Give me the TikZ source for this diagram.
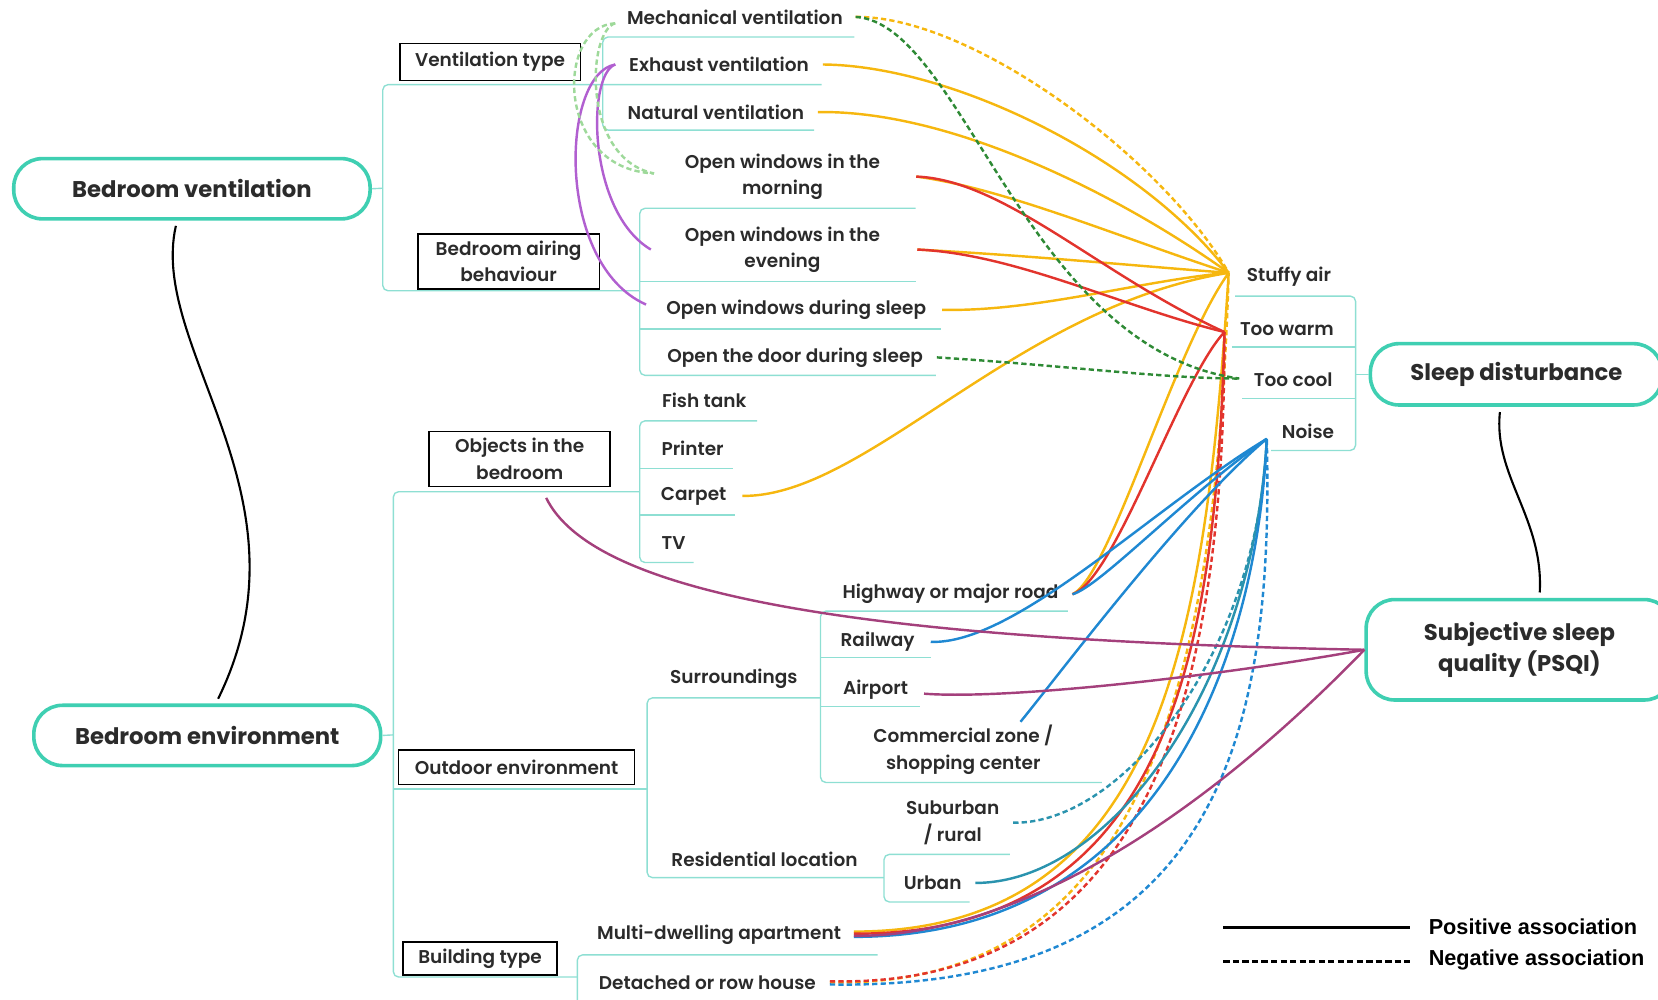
\documentclass[tikz,border=0pt]{standalone}
\usepackage{fontspec}
\setmainfont{Poppins}[UprightFont={* Medium}, BoldFont={* SemiBold}]
\newfontfamily\topicfont{Poppins}[UprightFont={* Bold}]
\newfontfamily\legendfont{Liberation Sans}
\usepackage{xcolor}

\definecolor{ink}{HTML}{2B2B2B}
\definecolor{mainteal}{HTML}{3FCFB2}
\definecolor{treeteal}{HTML}{8EDFD3}
\definecolor{stuffycol}{HTML}{F6B70F}
\definecolor{warmcol}{HTML}{E2342D}
\definecolor{coolcol}{HTML}{2E8A35}
\definecolor{noisecol}{HTML}{1F88D2}
\definecolor{urbancol}{HTML}{2A93AE}
\definecolor{psqicol}{HTML}{A4407C}
\definecolor{airingcol}{HTML}{B15FD0}
\definecolor{mechcol}{HTML}{9ED99A}

\begin{document}
\begin{tikzpicture}[x=1pt,y=-1pt,
  topic/.style={draw=mainteal,line width=3.4pt,rounded corners=27pt,fill=white,text=ink,font=\topicfont\fontsize{21.5}{30}\selectfont,align=center},
  catbox/.style={draw=black,line width=1.6pt,inner sep=0pt,text=ink,font=\fontsize{17.5}{25}\selectfont\bfseries,align=center},
  leaf/.style={inner sep=3pt,text=ink,font=\fontsize{17.5}{25}\selectfont\bfseries,align=center},
  branch/.style={draw=treeteal,line width=1.3pt,rounded corners=5pt},
  assoc/.style={line width=2.3pt},
  neg/.style={line width=2.3pt,dash pattern=on 5pt off 3pt},
  legend/.style={anchor=west,inner sep=0pt,font=\legendfont\fontsize{20.5}{24}\selectfont\bfseries}]
  \useasboundingbox (0,0) rectangle (1568,945);

  % main topics
  \node[topic,minimum width=337pt,minimum height=57pt] (bvent) at (181.5,178.5) {Bedroom ventilation};
  \node[topic,minimum width=328pt,minimum height=57pt] (benv) at (196,695.5) {Bedroom environment};
  \node[topic,minimum width=276pt,minimum height=58pt] (sleepdist) at (1434,354) {Sleep disturbance};
  \node[topic,minimum width=290pt,minimum height=95pt] (psqi) at (1437,614.5) {Subjective sleep\\quality (PSQI)};

  % category boxes
  \node[catbox,minimum width=171pt,minimum height=35pt] (vtype) at (463.5,58.5) {Ventilation type};
  \node[catbox,minimum width=172pt,minimum height=52pt] (airing) at (481,247) {Bedroom airing\\behaviour};
  \node[catbox,minimum width=171pt,minimum height=52pt] (objects) at (491.5,434) {Objects in the\\bedroom};
  \node[catbox,minimum width=223pt,minimum height=33pt] (outdoor) at (488.5,725.5) {Outdoor environment};
  \node[catbox,minimum width=146pt,minimum height=31pt] (building) at (454,906.5) {Building type};

  % leaves
  \node[leaf] (mech) at (695,16) {Mechanical ventilation};
  \node[leaf] (exhaust) at (680,61) {Exhaust ventilation};
  \node[leaf] (natural) at (677,106) {Natural ventilation};
  \node[leaf] (morning) at (740,167) {Open windows in the\\morning};
  \node[leaf] (evening) at (740,236) {Open windows in the\\evening};
  \node[leaf] (during) at (753,293) {Open windows during sleep};
  \node[leaf] (door) at (752,338) {Open the door during sleep};
  \node[leaf] (fish) at (666,379) {Fish tank};
  \node[leaf] (printer) at (655,424) {Printer};
  \node[leaf] (carpet) at (656,469) {Carpet};
  \node[leaf] (tv) at (637,514) {TV};
  \node[leaf] (highway) at (899,562) {Highway or major road};
  \node[leaf] (railway) at (830,607) {Railway};
  \node[leaf] (airport) at (828,652) {Airport};
  \node[leaf] (commercial) at (911,709) {Commercial zone /\\shopping center};
  \node[leaf] (surround) at (694,642) {Surroundings};
  \node[leaf] (residential) at (723,813) {Residential location};
  \node[leaf] (suburban) at (901,778) {Suburban\\/ rural};
  \node[leaf] (urban) at (882,835) {Urban};
  \node[leaf] (multi) at (680,884) {Multi-dwelling apartment};
  \node[leaf] (detached) at (669,929) {Detached or row house};
  \node[leaf] (stuffy) at (1219,262) {Stuffy air};
  \node[leaf] (warm) at (1217,311) {Too warm};
  \node[leaf] (cool) at (1223,359) {Too cool};
  \node[leaf] (noise) at (1237,408) {Noise};

  % tree branches
  \draw[branch] (bvent.east) -- (362,178);
  \draw[branch] (777,80) -- (362,80) -- (362,275) -- (605,275);
  \draw[branch] (808,35) -- (570,35) -- (570,123) -- (770,123);
  \draw[branch] (866,197) -- (605,197) -- (605,355) -- (885,355);
  \draw[branch] (605,266) -- (866,266);
  \draw[branch] (605,311) -- (890,311);
  \draw[branch] (benv.east) -- (372,695);
  \draw[branch] (605,465) -- (372,465) -- (372,924) -- (546,924);
  \draw[branch] (372,746) -- (612,746);
  \draw[branch] (716,398) -- (605,398) -- (605,532) -- (656,532);
  \draw[branch] (605,443) -- (693,443);
  \draw[branch] (605,487) -- (695,487);
  \draw[branch] (776,660) -- (612,660) -- (612,830) -- (836,830);
  \draw[branch] (1010,578) -- (776,578) -- (776,740) -- (1042,740);
  \draw[branch] (776,622) -- (880,622);
  \draw[branch] (776,668) -- (870,668);
  \draw[branch] (955,808) -- (836,808) -- (836,853) -- (917,853);
  \draw[branch] (830,903) -- (546,903) -- (546,950);
  \draw[branch] (1168,280) -- (1282,280) -- (1282,426) -- (1202,426);
  \draw[branch] (1165,328) -- (1282,328);
  \draw[branch] (1175,377) -- (1282,377);
  \draw[branch] (sleepdist.west) -- (1282,354);

  % meeting points
  \coordinate (stuffyin) at (1162,258);
  \coordinate (warmin) at (1158,314);
  \coordinate (coolin) at (1172,358);
  \coordinate (noisein) at (1198,415);

  % stuffy air
  \draw[neg,stuffycol] ([xshift=9pt]mech.east) .. controls (920,15) and (1100,150) .. (stuffyin);
  \draw[assoc,stuffycol] ([xshift=10pt]exhaust.east) .. controls (900,62) and (1080,150) .. (stuffyin);
  \draw[assoc,stuffycol] ([xshift=10pt]natural.east) .. controls (900,104) and (1060,185) .. (stuffyin);
  \draw[assoc,stuffycol] ([xshift=31pt]morning.east) .. controls (950,178) and (1060,225) .. (stuffyin);
  \draw[assoc,stuffycol] ([xshift=32pt]evening.east) .. controls (980,242) and (1080,252) .. (stuffyin);
  \draw[assoc,stuffycol] ([xshift=12pt]during.east) .. controls (980,295) and (1080,265) .. (stuffyin);
  \draw[assoc,stuffycol] ([xshift=12pt]carpet.east) .. controls (820,470) and (960,290) .. (stuffyin);
  \draw[assoc,stuffycol] ([xshift=10pt]highway.east) .. controls (1050,545) and (1110,330) .. (stuffyin);
  \draw[assoc,stuffycol] ([xshift=9pt,yshift=3pt]multi.east) .. controls (1100,881) and (1140,600) .. (stuffyin);
  \draw[neg,stuffycol] ([xshift=10pt]detached.east) .. controls (1080,935) and (1150,650) .. (stuffyin);

  % too warm
  \draw[assoc,warmcol] ([xshift=31pt]morning.east) .. controls (950,170) and (1040,260) .. (warmin);
  \draw[assoc,warmcol] ([xshift=32pt]evening.east) .. controls (960,240) and (1060,290) .. (warmin);
  \draw[assoc,warmcol] ([xshift=10pt]highway.east) .. controls (1055,548) and (1115,360) .. (warmin);
  \draw[assoc,warmcol] ([xshift=9pt,yshift=1pt]multi.east) .. controls (1105,884) and (1150,620) .. (warmin);
  \draw[neg,warmcol] ([xshift=10pt,yshift=1pt]detached.east) .. controls (1085,935) and (1158,660) .. (warmin);

  % too cool
  \draw[neg,coolcol] ([xshift=9pt]mech.east) .. controls (910,22) and (970,330) .. (coolin);
  \draw[neg,coolcol] ([xshift=10pt]door.east) .. controls (1000,345) and (1100,358) .. (coolin);

  % noise
  \draw[assoc,noisecol] ([xshift=10pt]highway.east) .. controls (1040,555) and (1120,470) .. (noisein);
  \draw[assoc,noisecol] ([xshift=12pt]railway.east) .. controls (960,610) and (1090,480) .. (noisein);
  \draw[assoc,noisecol] (commercial.26) .. controls (1000,640) and (1120,480) .. (noisein);
  \draw[neg,urbancol] ([xshift=10pt]suburban.east) .. controls (1060,780) and (1190,620) .. (noisein);
  \draw[assoc,urbancol] ([xshift=10pt]urban.east) .. controls (1050,835) and (1185,650) .. (noisein);
  \draw[assoc,noisecol] ([xshift=9pt,yshift=-2pt]multi.east) .. controls (1110,886) and (1190,600) .. (noisein);
  \draw[neg,noisecol] ([xshift=10pt,yshift=-2pt]detached.east) .. controls (1150,937) and (1205,700) .. (noisein);

  % subjective sleep quality
  \draw[assoc,psqicol] ([xshift=25pt,yshift=-10pt]objects.south) .. controls (560,560) and (800,605) .. (psqi.west);
  \draw[assoc,psqicol] ([xshift=12pt,yshift=-4pt]airport.east) .. controls (950,662) and (1150,640) .. (psqi.west);
  \draw[assoc,psqicol] ([xshift=9pt,yshift=-1pt]multi.east) .. controls (950,886) and (1120,790) .. (psqi.west);

  % within ventilation
  \draw[assoc,airingcol] ([xshift=-10pt]exhaust.west) .. controls (555,70) and (555,200) .. ([xshift=-29pt]evening.west);
  \draw[assoc,airingcol] ([xshift=-10pt]exhaust.west) .. controls (530,70) and (525,250) .. ([xshift=-16pt,yshift=5pt]during.west);
  \draw[neg,mechcol] ([xshift=-8pt,yshift=-6pt]mech.west) .. controls (525,25) and (525,160) .. ([xshift=-26pt,yshift=3pt]morning.west);
  \draw[neg,mechcol] ([xshift=-8pt,yshift=-6pt]mech.west) .. controls (555,30) and (550,150) .. ([xshift=-26pt,yshift=3pt]morning.west);

  % topic links
  \draw[line width=2pt,shorten <=5pt,shorten >=5pt] (bvent.245) .. controls (140,330) and (300,470) .. (benv.75);
  \draw[line width=2pt,shorten <=5pt,shorten >=5pt] (sleepdist.244) .. controls (1412,450) and (1460,490) .. (psqi.69);

  % legend
  \coordinate (posa) at (1157,877);
  \coordinate (posb) at (1333,877);
  \coordinate (nega) at (1157,909);
  \coordinate (negb) at (1333,909);
  \draw[line width=2.5pt] (posa) -- (posb);
  \draw[line width=2.5pt,dash pattern=on 6pt off 3pt] (nega) -- (negb);
  \node[legend] (postext) at (1351,876) {Positive association};
  \node[legend] (negtext) at (1351,908) {Negative association};
\end{tikzpicture}
\end{document}
